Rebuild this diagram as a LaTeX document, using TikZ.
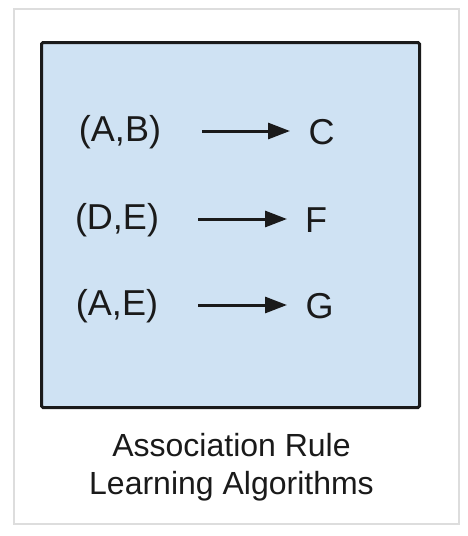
\documentclass[tikz,border=0pt]{standalone}
\usepackage{fontspec}
\setmainfont{Liberation Sans}
\usetikzlibrary{arrows.meta}
\definecolor{boxblue}{HTML}{CFE2F3}
\definecolor{framegray}{HTML}{DDDDDD}
\definecolor{ink}{HTML}{1A1A1A}
\begin{document}
\begin{tikzpicture}[x=1pt,y=-1pt,
  itemtext/.style={inner sep=0pt,font=\fontsize{36}{40}\selectfont,text=ink,anchor=center},
  captext/.style={inner sep=0pt,font=\fontsize{32}{38}\selectfont,text=ink,align=center},
  rulearrow/.style={line width=3pt,ink,-{Triangle[length=22pt,width=16pt]}}]
\useasboundingbox (0,0) rectangle (468,536);
\fill[white] (0,0) rectangle (468,536);
\draw[framegray,line width=2pt] (13.5,8.5) rectangle (458.5,523.5);
\draw[fill=boxblue,draw=ink,line width=3pt,rounded corners=1.5pt] (41.5,42.5) rectangle (419.5,407.5);
% row 1
\node[itemtext] (ab) at (120,132) {(A,B)};
\node[itemtext] (c) at (321.5,132) {C};
\coordinate (s1) at (202,131);
\coordinate (e1) at (290,131);
\draw[rulearrow] (s1) -- (e1);
% row 2
\node[itemtext] (de) at (117,220) {(D,E)};
\node[itemtext] (f) at (316,220) {F};
\coordinate (s2) at (198,219);
\coordinate (e2) at (287,219);
\draw[rulearrow] (s2) -- (e2);
% row 3
\node[itemtext] (ae) at (117,306) {(A,E)};
\node[itemtext] (g) at (319.5,306) {G};
\coordinate (s3) at (198,305);
\coordinate (e3) at (287,305);
\draw[rulearrow] (s3) -- (e3);
% caption
\node[captext] (cap) at (231.5,467) {Association Rule\\Learning Algorithms};
\end{tikzpicture}
\end{document}
